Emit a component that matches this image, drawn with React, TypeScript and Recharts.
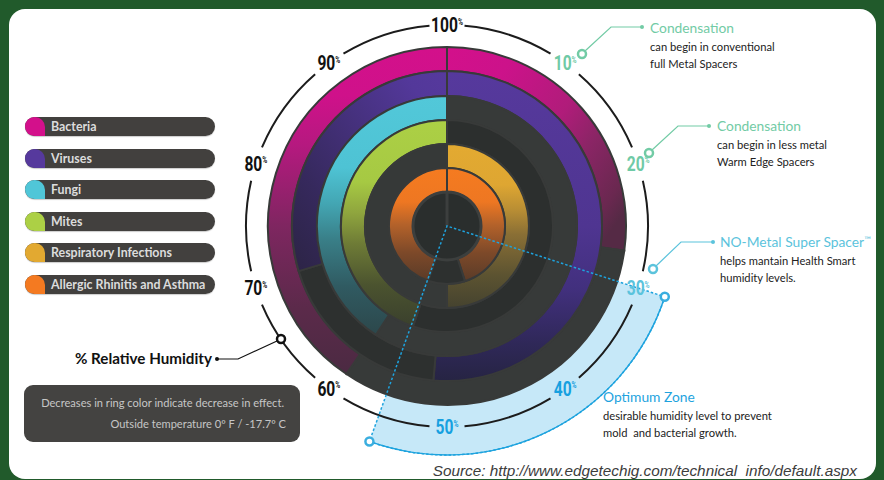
import React from 'react';
import { PieChart, Pie, Cell, Legend } from 'recharts';

// ---------- data ----------
const humidityTicks = [100, 10, 20, 30, 40, 50, 60, 70, 80, 90];
const categories = ['Bacteria', 'Viruses', 'Fungi', 'Mites', 'Respiratory Infections', 'Allergic Rhinitis and Asthma'];

// effect ranges per ring: [from %RH, to %RH, active(1) / inactive(0)]
const bacteriaRanges = [[0, 27.2, 1], [27.2, 59.5, 0], [59.5, 100, 1]];
const virusesRanges = [[0, 51.4, 1], [51.4, 70.3, 0], [70.3, 100, 1]];
const fungiRanges = [[0, 59.2, 0], [59.2, 100, 1]];
const mitesRanges = [[0, 55.2, 0], [55.2, 100, 1]];
const respiratoryRanges = [[0, 50, 1], [50, 100, 0]];
const allergicRanges = [[0, 45, 1], [45, 55.3, 0], [55.3, 100, 1]];

const optimumZone = [30, 55.5];

// ---------- styles ----------
const CX = 447;
const CY = 226;
const legendColors = ['#d3108b', '#56399d', '#50c6d8', '#acd045', '#e2a931', '#f47a21'];
const ringKeys = ['bac', 'vir', 'fun', 'mit', 'res', 'all'];
const ringRanges = [bacteriaRanges, virusesRanges, fungiRanges, mitesRanges, respiratoryRanges, allergicRanges];
const ringOuter = [179, 155, 130, 106, 82, 58];
const ringInner = [155, 130, 106, 82, 58, 34];
const ringDark = ['#373a39', '#2d302f', '#373a39', '#2c2f2e', '#363938', '#2d302f'];

type Grad = { x1: number; y1: number; x2: number; y2: number; stops: [number, string][] };
const V = { x1: 0, y1: 0, x2: 0, y2: 1 };
const allergicStops: [number, string][] = [[0, '#f57b20'], [0.3, '#ee7722'], [0.5, '#b4622a'], [0.75, '#7d4929'], [1, '#5a3b28']];
const gradients: Record<string, Grad> = {
  'bac-0': { x1: 0, y1: 0, x2: 1, y2: 0.8, stops: [[0, '#d3108b'], [0.25, '#cc128a'], [0.55, '#b01c7a'], [0.72, '#8a2565'], [0.92, '#6a2850'], [1, '#552a45']] },
  'bac-2': { ...V, stops: [[0, '#d3108b'], [0.15, '#cf118a'], [0.3, '#b5197f'], [0.55, '#7e2660'], [0.8, '#5b2a4a'], [1, '#4b2a42']] },
  'vir-0': { ...V, stops: [[0, '#56399d'], [0.5, '#4f3591'], [0.7, '#42307e'], [0.88, '#2f2858'], [1, '#262443']] },
  'vir-2': { x1: 1, y1: 0, x2: 0, y2: 1, stops: [[0, '#56399d'], [0.15, '#53389a'], [0.45, '#44307a'], [0.72, '#36295d'], [1, '#2c2445']] },
  'fun-1': { ...V, stops: [[0, '#52c8d9'], [0.3, '#4ec3d4'], [0.45, '#43a6b3'], [0.6, '#397f88'], [0.8, '#305a61'], [1, '#2c474b']] },
  'mit-1': { ...V, stops: [[0, '#acd045'], [0.3, '#a6c943'], [0.45, '#8fa53e'], [0.6, '#6e7b36'], [0.8, '#4b532f'], [1, '#3a402d']] },
  'res-0': { ...V, stops: [[0, '#e3aa31'], [0.25, '#dea632'], [0.4, '#b98e34'], [0.55, '#8a6f35'], [0.8, '#5c5331'], [1, '#45432f']] },
  'all-0': { ...V, stops: allergicStops },
  'all-2': { ...V, stops: allergicStops },
};

const tickColor = (v: number) => {
  if (v === 10 || v === 20) return '#6fcaa6';
  if (v === 30) return '#5bc3dc';
  if (v === 40 || v === 50) return '#16a0e0';
  return '#111111';
};

const polar = (pct: number, r: number) => {
  const a = (pct * 3.6 * Math.PI) / 180;
  return { x: CX + r * Math.sin(a), y: CY - r * Math.cos(a) };
};

const zoneData = [
  { name: 'below', value: optimumZone[0], zone: false },
  { name: 'optimum', value: optimumZone[1] - optimumZone[0], zone: true },
  { name: 'above', value: 100 - optimumZone[1], zone: false },
];

const renderTick = (props: any) => {
  const RAD = Math.PI / 180;
  const cx = props.cx ?? CX;
  const cy = props.cy ?? CY;
  const r = props.outerRadius ?? 201;
  const x = cx + r * Math.cos(-props.midAngle * RAD);
  const y = cy + r * Math.sin(-props.midAngle * RAD);
  const v = humidityTicks[props.index];
  return (
    <text
      key={`t${props.index}`}
      transform={`translate(${x},${y + 7}) scale(0.8,1)`}
      textAnchor="middle"
      fill={tickColor(v)}
      fontFamily="Roboto, 'DejaVu Sans', sans-serif"
      fontWeight={700}
      fontSize={19.5}
    >
      <tspan>{v}</tspan>
      <tspan fontSize={8.5} dy={-7.5}>%</tspan>
    </text>
  );
};

const renderLegend = () => (
  <div style={{ width: 190 }}>
    {categories.map((c, i) => (
      <div
        key={c}
        style={{
          position: 'relative',
          height: 19,
          marginBottom: 12.6,
          background: '#42403e',
          borderRadius: 9.5,
          boxShadow: '0 1px 1px rgba(0,0,0,0.2)',
        }}
      >
        <div
          style={{
            position: 'absolute',
            left: 0,
            top: 0,
            width: 20,
            height: 19,
            background: legendColors[i],
            borderRadius: '9.5px 10px 0 9.5px',
          }}
        />
        <span
          style={{
            position: 'absolute',
            left: 26,
            top: 0,
            lineHeight: '19px',
            fontSize: 12.4,
            fontWeight: 700,
            color: '#dcdcdc',
            fontFamily: 'Lato, sans-serif',
            whiteSpace: 'nowrap',
          }}
        >
          {c}
        </span>
      </div>
    ))}
  </div>
);

const Callout = ({ m, k, end, color }: { m: [number, number]; k: [number, number]; end: number; color: string }) => (
  <g>
    <polyline points={`${m[0] + 3},${m[1] - 3} ${k[0]},${k[1]} ${end},${k[1]}`} fill="none" stroke={color} strokeWidth={1.2} />
    <circle cx={end} cy={k[1]} r={2} fill={color} />
    <circle cx={m[0]} cy={m[1]} r={4} fill="#fff" stroke={color} strokeWidth={2.5} />
  </g>
);

export default function App() {
  const zs = polar(optimumZone[0], 229);
  const ze = polar(optimumZone[1], 229);
  const txt = "Lato, 'Open Sans', sans-serif";
  const head = 13.8;
  return (
    <div style={{ position: 'fixed', left: 0, top: 0, width: 884, height: 480, background: '#215a2b', overflow: 'hidden' }}>
      <div style={{ position: 'absolute', left: 9, top: 9, width: 867, height: 470, background: '#ffffff', borderRadius: 16 }} />
      <div style={{ position: 'absolute', left: 0, top: 0 }}>
        <PieChart width={884} height={480} margin={{ top: 0, right: 0, bottom: 0, left: 0 }}>
          <defs>
            {Object.entries(gradients).map(([id, g]) => (
              <linearGradient key={id} id={`g-${id}`} x1={g.x1} y1={g.y1} x2={g.x2} y2={g.y2}>
                {g.stops.map(([o, c], j) => (
                  <stop key={j} offset={o} stopColor={c} />
                ))}
              </linearGradient>
            ))}
          </defs>
          {/* optimum zone fill */}
          <Pie data={zoneData} dataKey="value" cx={CX} cy={CY} innerRadius={0} outerRadius={229} startAngle={90} endAngle={-270} stroke="none" isAnimationActive={false}>
            {zoneData.map((d, i) => (
              <Cell key={i} fill={d.zone ? '#c6e8f8' : 'none'} stroke="none" />
            ))}
          </Pie>
          {/* humidity dial */}
          <Pie
            data={humidityTicks.map((t) => ({ name: `${t}%`, value: 10 }))}
            dataKey="value"
            cx={CX}
            cy={CY}
            innerRadius={200}
            outerRadius={202}
            startAngle={85}
            endAngle={-275}
            paddingAngle={10}
            fill="#1c1c1c"
            stroke="none"
            isAnimationActive={false}
          />
          {/* rings */}
          {ringRanges.map((ranges, r) => (
            <Pie
              key={ringKeys[r]}
              data={ranges.map(([a, b, on]) => ({ name: `${a}-${b}`, value: b - a, on: !!on }))}
              dataKey="value"
              cx={CX}
              cy={CY}
              innerRadius={ringInner[r]}
              outerRadius={ringOuter[r]}
              startAngle={90}
              endAngle={-270}
              stroke="#383a39"
              strokeWidth={2}
              isAnimationActive={false}
            >
              {ranges.map((seg, i) => (
                <Cell key={i} fill={seg[2] ? `url(#g-${ringKeys[r]}-${i})` : ringDark[r]} />
              ))}
            </Pie>
          ))}
          {/* inner circle */}
          <Pie data={[{ name: 'core', value: 100 }]} dataKey="value" cx={CX} cy={CY} innerRadius={0} outerRadius={34} startAngle={90} endAngle={-270} fill="#2a2e2d" stroke="#3c3f3e" strokeWidth={3} isAnimationActive={false} />
          {/* optimum zone dotted edges */}
          <Pie data={zoneData} dataKey="value" cx={CX} cy={CY} innerRadius={0} outerRadius={229} startAngle={90} endAngle={-270} isAnimationActive={false}>
            {zoneData.map((d, i) => (
              <Cell key={i} fill="none" stroke={d.zone ? '#1ea3de' : 'none'} strokeWidth={1.5} strokeDasharray="2.5 2" />
            ))}
          </Pie>
          {/* optimum zone outer arc */}
          <Pie data={zoneData} dataKey="value" cx={CX} cy={CY} innerRadius={228.3} outerRadius={229.7} startAngle={90} endAngle={-270} stroke="none" isAnimationActive={false}>
            {zoneData.map((d, i) => (
              <Cell key={i} fill={d.zone ? '#1ea3de' : 'none'} stroke="none" />
            ))}
          </Pie>
          {/* tick labels */}
          <Pie
            data={humidityTicks.map((t) => ({ name: `${t}%`, value: 10 }))}
            dataKey="value"
            cx={CX}
            cy={CY}
            innerRadius={201}
            outerRadius={201}
            startAngle={108}
            endAngle={-252}
            fill="none"
            stroke="none"
            label={renderTick}
            labelLine={false}
            isAnimationActive={false}
          />
          <Legend
            layout="vertical"
            align="center"
            verticalAlign="middle"
            content={renderLegend}
            wrapperStyle={{ left: 25, top: 117, width: 190 }}
          />
        </PieChart>
      </div>
      <svg width={884} height={480} style={{ position: 'absolute', left: 0, top: 0, pointerEvents: 'none' }}>
        {/* zone markers */}
        <circle cx={zs.x} cy={zs.y} r={4} fill="#fff" stroke="#3aaedf" strokeWidth={2.5} />
        <circle cx={ze.x} cy={ze.y} r={4} fill="#fff" stroke="#3aaedf" strokeWidth={2.5} />

        {/* callouts */}
        <Callout m={[582, 54]} k={[611, 27]} end={642} color="#72cba5" />
        <text x={650} y={33} fontFamily={txt} fontSize={head} fill="#72cba5">Condensation</text>
        <text x={650} y={51} fontFamily={txt} fontSize={11.2} fill="#222">can begin in conventional</text>
        <text x={650} y={68} fontFamily={txt} fontSize={11.2} fill="#222">full Metal Spacers</text>

        <Callout m={[649, 153]} k={[678, 126]} end={709} color="#72cba5" />
        <text x={717} y={131} fontFamily={txt} fontSize={head} fill="#72cba5">Condensation</text>
        <text x={717} y={149} fontFamily={txt} fontSize={11.2} fill="#222">can begin in less metal</text>
        <text x={717} y={166} fontFamily={txt} fontSize={11.2} fill="#222">Warm Edge Spacers</text>

        <Callout m={[653, 269]} k={[681, 242]} end={713} color="#5bc3dc" />
        <text x={720} y={247} fontFamily={txt} fontSize={head} fill="#5bc3dc">
          NO-Metal Super Spacer<tspan fontSize={9} dy={-4}>™</tspan>
        </text>
        <text x={720} y={265} fontFamily={txt} fontSize={11.2} fill="#222">helps mantain Health Smart</text>
        <text x={720} y={282} fontFamily={txt} fontSize={11.2} fill="#222">humidity levels.</text>

        <text x={603} y={402} fontFamily={txt} fontSize={head} fill="#1ea3de">Optimum Zone</text>
        <text x={603} y={420} fontFamily={txt} fontSize={11.2} fill="#222" style={{ whiteSpace: 'pre' }}>desirable humidity level to prevent</text>
        <text x={603} y={437} fontFamily={txt} fontSize={11.2} fill="#222" style={{ whiteSpace: 'pre' }}>mold  and bacterial growth.</text>

        {/* % relative humidity */}
        <text x={212} y={364} textAnchor="end" fontFamily={txt} fontWeight={700} fontSize={15.2} fill="#111">% Relative Humidity</text>
        <polyline points="217,359 238,359 277,341" fill="none" stroke="#111" strokeWidth={1.2} />
        <circle cx={217} cy={359} r={2} fill="#111" />
        <circle cx={281} cy={339} r={4} fill="#fff" stroke="#111" strokeWidth={2.5} />

        {/* note box */}
        <rect x={24} y={385} width={276} height={57} rx={9} fill="#444341" />
        <text x={284} y={407} textAnchor="end" fontFamily={txt} fontSize={11.1} fill="#c6c6c6">Decreases in ring color indicate decrease in effect.</text>
        <text x={286} y={428} textAnchor="end" fontFamily={txt} fontSize={11.1} fill="#c6c6c6">Outside temperature 0º F / -17.7º C</text>

        {/* source */}
        <text x={857} y={476} textAnchor="end" fontFamily="'Liberation Sans', Arial, sans-serif" fontStyle="italic" fontSize={15.3} fill="#3c3c3c" style={{ whiteSpace: 'pre' }}>
          Source: http://www.edgetechig.com/technical  info/default.aspx
        </text>
      </svg>
    </div>
  );
}
